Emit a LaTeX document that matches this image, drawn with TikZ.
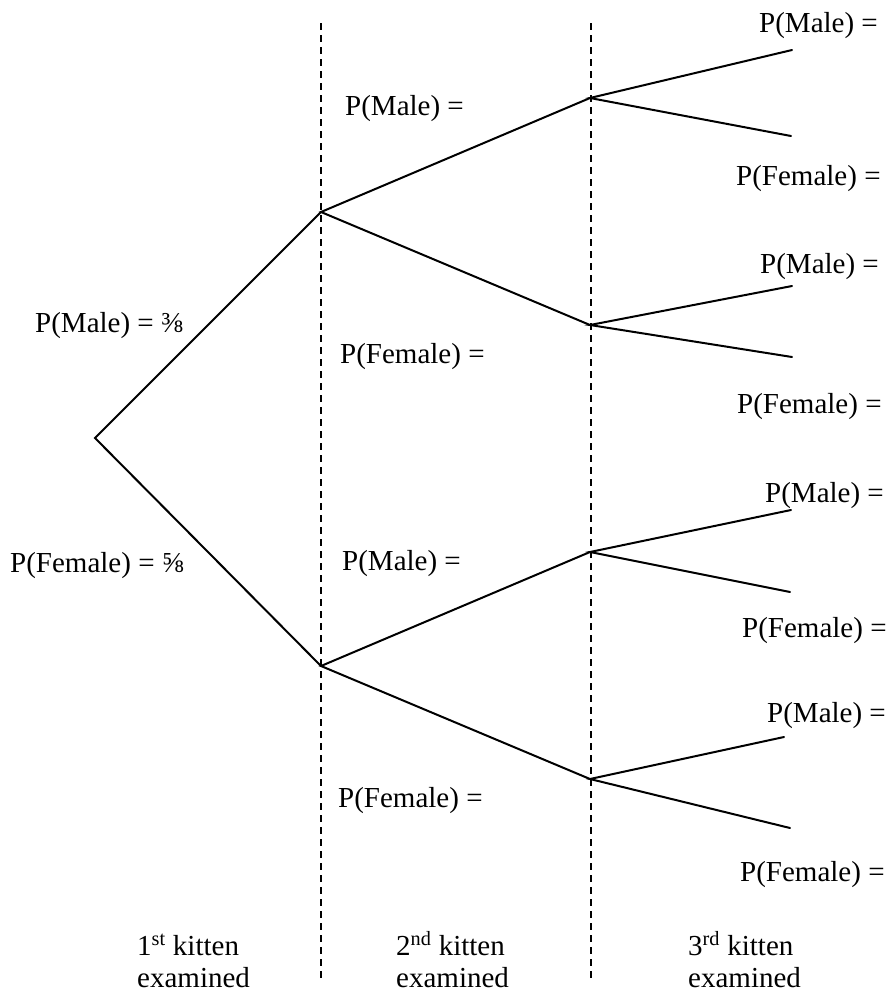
\documentclass[tikz,border=0pt]{standalone}
\usepackage{fontspec}
\setmainfont{Liberation Serif}
\usetikzlibrary{positioning}
\begin{document}
\begin{tikzpicture}[x=1pt, y=-1pt,
    branch/.style={line width=2pt, line cap=round},
    divider/.style={line width=1.4pt, dash pattern=on 7pt off 5pt},
    prob/.style={anchor=base west, inner sep=0pt, font=\fontsize{29}{32}\selectfont},
    stagelabel/.style={prob, align=left}
]
\useasboundingbox (0,0) rectangle (887,994);

% tree points
\coordinate (root) at (95,438);
\coordinate (m) at (321,212);
\coordinate (f) at (321,666);
\coordinate (mm) at (590,98);
\coordinate (mf) at (590,325);
\coordinate (fm) at (590,552);
\coordinate (ff) at (590,779);
\coordinate (mmm) at (792,50);
\coordinate (mmf) at (791,136);
\coordinate (mfm) at (792,286);
\coordinate (mff) at (792,357);
\coordinate (fmm) at (791,510);
\coordinate (fmf) at (790,592);
\coordinate (ffm) at (784,737);
\coordinate (fff) at (790,828);

% stage dividers
\coordinate (div1top) at (321,23);
\coordinate (div1bot) at (321,980);
\coordinate (div2top) at (591,23);
\coordinate (div2bot) at (591,980);
\draw[divider] (div1top) -- (div1bot);
\draw[divider] (div2top) -- (div2bot);

\draw[branch] (m) -- (root) -- (f);
\draw[branch] (mm) -- (m) -- (mf);
\draw[branch] (fm) -- (f) -- (ff);
\draw[branch] (mmm) -- (mm) -- (mmf);
\draw[branch] (mfm) -- (mf) -- (mff);
\draw[branch] (fmm) -- (fm) -- (fmf);
\draw[branch] (ffm) -- (ff) -- (fff);

% probabilities
\node[prob] (pm) at (35,332) {P(Male) = ⅜};
\node[prob] (pf) at (10,572) {P(Female) = ⅝};
\node[prob] (pmm) at (345,115) {P(Male) =};
\node[prob] (pmf) at (340,363) {P(Female) =};
\node[prob] (pfm) at (342,570) {P(Male) =};
\node[prob] (pff) at (338,807) {P(Female) =};
\node[prob] (pmmm) at (759,32) {P(Male) =};
\node[prob] (pmmf) at (736,185) {P(Female) =};
\node[prob] (pmfm) at (760,273) {P(Male) =};
\node[prob] (pmff) at (737,413) {P(Female) =};
\node[prob] (pfmm) at (765,502) {P(Male) =};
\node[prob] (pfmf) at (742,637) {P(Female) =};
\node[prob] (pffm) at (767,722) {P(Male) =};
\node[prob] (pfff) at (740,881) {P(Female) =};

% stages
\node[stagelabel] (first) at (137,987) {1\textsuperscript{st} kitten\\examined};
\node[stagelabel] (second) at (396,987) {2\textsuperscript{nd} kitten\\examined};
\node[stagelabel] (third) at (688,987) {3\textsuperscript{rd} kitten\\examined};
\end{tikzpicture}
\end{document}
